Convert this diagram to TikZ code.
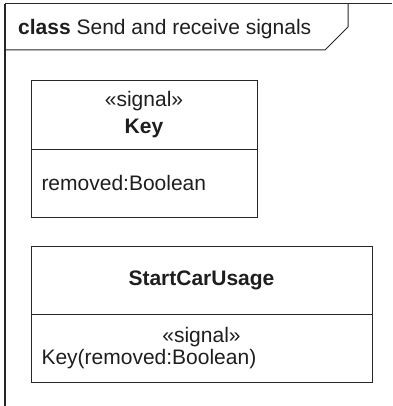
\documentclass[tikz,border=0pt]{standalone}
\usepackage{fontspec}
\setmainfont{Liberation Sans}
\usetikzlibrary{positioning}
\definecolor{umlink}{RGB}{38,38,38}
\definecolor{umltext}{RGB}{30,30,30}
\newcommand{\umlfont}{\fontsize{21}{27}\selectfont}
\newcommand{\umltight}{\fontsize{21}{22}\selectfont}

\begin{document}
\begin{tikzpicture}[
      x=1pt, y=-1pt,
      head/.style={draw=umlink, line width=1pt, minimum height=68pt,
                   inner sep=0pt, outer sep=0pt, align=center,
                   font=\umlfont, text=umltext},
      comp/.style={head, inner xsep=10.5pt, align=left},
      frameline/.style={draw=umlink, line width=1pt}
    ]
    \useasboundingbox (0,0) rectangle (392,406);
    \draw[frameline] (392,4) -- (5,4) -- (5,406);
    \draw[umlink, line width=2pt] (5,4) -- (5,406);
    \draw[frameline] (5,50) -- (325,50) -- (348,27) -- (348,4);
    \node[anchor=base west, inner sep=0pt, font=\umlfont, text=umltext]
      (frametitle) at (18,35) {\textbf{class} Send and receive signals};
    \node[head, minimum width=226pt] (key) at (144,115)
      {«signal»\\\textbf{Key}};
    \node[comp, below=0pt of key, text width=205pt] (keyattr)
      {removed:Boolean};
    \node[head, minimum width=341pt] (start) at (201.5,280)
      {\textbf{StartCarUsage}};
    \node[comp, below=0pt of start, text width=320pt, font=\umltight] (startop)
      {\makebox[\linewidth]{«signal»}\\Key(removed:Boolean)};
  \end{tikzpicture}
\end{document}
